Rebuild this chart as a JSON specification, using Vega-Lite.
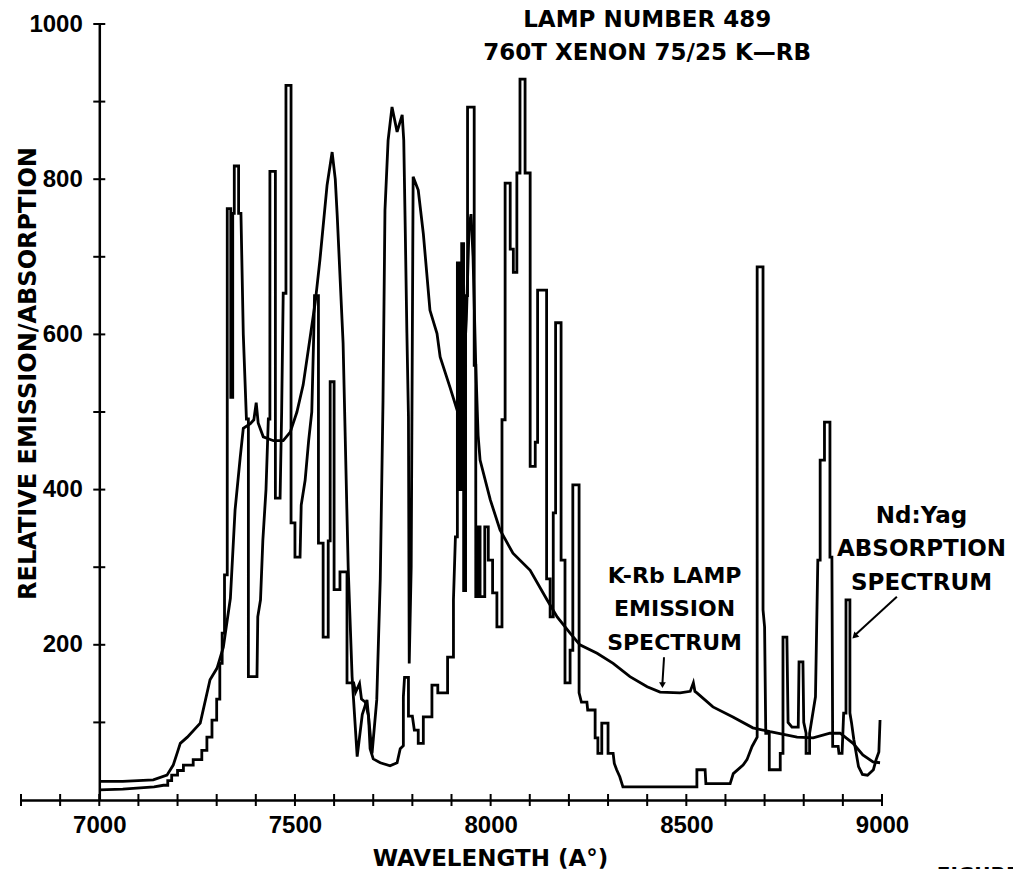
{
  "$schema": "https://vega.github.io/schema/vega-lite/v6.json",
  "width": 861,
  "height": 776,
  "autosize": {"type": "none"},
  "padding": {"left": 21, "top": 24, "right": 131, "bottom": 69},
  "background": "white",
  "config": {"view": {"stroke": null}},
  "datasets": {
    "absorption": [
      {"w":7000,"v":13},{"w":7060,"v":14},{"w":7140,"v":17},{"w":7164,"v":19},{"w":7175,"v":19},{"w":7175,"v":25},{"w":7185,"v":25},{"w":7185,"v":32},{"w":7200,"v":32},{"w":7200,"v":38},{"w":7215,"v":38},{"w":7215,"v":45},{"w":7240,"v":45},{"w":7240,"v":52},{"w":7262,"v":52},{"w":7262,"v":64},{"w":7275,"v":64},{"w":7275,"v":81},{"w":7288,"v":81},{"w":7288,"v":103},{"w":7300,"v":103},{"w":7300,"v":130},{"w":7308,"v":130},{"w":7308,"v":176},{"w":7314,"v":176},{"w":7314,"v":215},{"w":7320,"v":215},{"w":7320,"v":290},{"w":7327,"v":290},
      {"w":7327,"v":762},{"w":7336,"v":762},{"w":7336,"v":519},{"w":7341,"v":519},{"w":7341,"v":756},{"w":7345,"v":756},{"w":7345,"v":817},{"w":7356,"v":817},{"w":7356,"v":756},{"w":7362,"v":756},{"w":7368,"v":600},{"w":7376,"v":491},{"w":7381,"v":491},{"w":7381,"v":159},{"w":7403,"v":159},{"w":7405,"v":236},{"w":7412,"v":258},{"w":7418,"v":335},{"w":7426,"v":400},{"w":7432,"v":491},{"w":7436,"v":491},{"w":7436,"v":810},{"w":7450,"v":810},{"w":7450,"v":389},{"w":7462,"v":389},{"w":7466,"v":500},{"w":7470,"v":653},{"w":7477,"v":653},{"w":7477,"v":921},{"w":7490,"v":921},{"w":7490,"v":357},{"w":7500,"v":357},{"w":7500,"v":313},{"w":7513,"v":313},{"w":7516,"v":380},{"w":7526,"v":412},{"w":7535,"v":463},{"w":7543,"v":500},{"w":7548,"v":600},{"w":7550,"v":650},{"w":7560,"v":650},{"w":7560,"v":331},{"w":7572,"v":331},{"w":7572,"v":210},{"w":7585,"v":210},{"w":7585,"v":334},{"w":7590,"v":334},{"w":7590,"v":539},{"w":7600,"v":539},{"w":7600,"v":271},{"w":7615,"v":271},{"w":7615,"v":294},{"w":7633,"v":294},{"w":7633,"v":151},{"w":7650,"v":151},{"w":7655,"v":139},{"w":7665,"v":150},{"w":7670,"v":130},{"w":7680,"v":126},{"w":7688,"v":108},{"w":7692,"v":66},{"w":7700,"v":53},{"w":7718,"v":48},{"w":7743,"v":44},{"w":7761,"v":48},{"w":7769,"v":66},{"w":7777,"v":70},{"w":7777,"v":133},{"w":7780,"v":158},{"w":7790,"v":158},{"w":7790,"v":108},{"w":7800,"v":108},{"w":7805,"v":90},{"w":7815,"v":90},{"w":7815,"v":73},{"w":7828,"v":73},{"w":7828,"v":107},{"w":7850,"v":107},{"w":7850,"v":148},{"w":7865,"v":148},{"w":7865,"v":138},{"w":7890,"v":138},{"w":7890,"v":184},{"w":7905,"v":184},{"w":7905,"v":258},{"w":7910,"v":339},{"w":7915,"v":339},{"w":7915,"v":692},{"w":7920,"v":692},{"w":7920,"v":400},{"w":7926,"v":400},{"w":7926,"v":717},{"w":7931,"v":717},{"w":7931,"v":270},{"w":7936,"v":270},{"w":7936,"v":650},{"w":7941,"v":650},{"w":7941,"v":893},{"w":7958,"v":893},{"w":7958,"v":560},{"w":7962,"v":560},{"w":7962,"v":262},{"w":7968,"v":262},{"w":7968,"v":352},{"w":7973,"v":352},{"w":7973,"v":262},{"w":7985,"v":262},{"w":7985,"v":352},{"w":7994,"v":352},{"w":7994,"v":309},{"w":8005,"v":309},{"w":8005,"v":267},{"w":8016,"v":267},{"w":8016,"v":223},{"w":8029,"v":223},{"w":8029,"v":490},{"w":8037,"v":490},{"w":8037,"v":795},{"w":8050,"v":795},{"w":8050,"v":710},{"w":8058,"v":710},{"w":8058,"v":680},{"w":8067,"v":680},{"w":8067,"v":808},{"w":8075,"v":808},{"w":8075,"v":929},{"w":8088,"v":929},{"w":8088,"v":808},{"w":8101,"v":808},{"w":8101,"v":430},{"w":8114,"v":430},{"w":8114,"v":461},{"w":8120,"v":461},{"w":8120,"v":657},{"w":8143,"v":657},{"w":8143,"v":285},{"w":8152,"v":285},{"w":8152,"v":236},{"w":8160,"v":236},{"w":8160,"v":370},{"w":8166,"v":370},{"w":8166,"v":615},{"w":8180,"v":615},{"w":8180,"v":309},{"w":8190,"v":309},{"w":8190,"v":151},{"w":8203,"v":151},{"w":8203,"v":193},{"w":8210,"v":193},{"w":8210,"v":406},{"w":8226,"v":406},{"w":8226,"v":138},{"w":8232,"v":126},{"w":8246,"v":126},{"w":8248,"v":116},{"w":8267,"v":116},{"w":8267,"v":80},{"w":8274,"v":80},{"w":8274,"v":60},{"w":8284,"v":60},{"w":8284,"v":99},{"w":8300,"v":99},{"w":8300,"v":60},{"w":8313,"v":60},{"w":8316,"v":47},{"w":8322,"v":39},{"w":8330,"v":30},{"w":8338,"v":17},{"w":8527,"v":17},{"w":8527,"v":39},{"w":8548,"v":39},{"w":8550,"v":21},{"w":8612,"v":21},{"w":8620,"v":34},{"w":8645,"v":45},{"w":8655,"v":52},{"w":8668,"v":69},{"w":8681,"v":81},{"w":8681,"v":687},{"w":8696,"v":687},{"w":8696,"v":245},{"w":8700,"v":223},{"w":8703,"v":86},{"w":8712,"v":86},{"w":8712,"v":39},{"w":8740,"v":39},{"w":8740,"v":60},{"w":8747,"v":60},{"w":8747,"v":210},{"w":8757,"v":210},{"w":8760,"v":100},{"w":8770,"v":94},{"w":8786,"v":94},{"w":8788,"v":178},{"w":8798,"v":178},{"w":8800,"v":100},{"w":8806,"v":86},{"w":8806,"v":60},{"w":8815,"v":60},{"w":8815,"v":86},{"w":8830,"v":133},{"w":8836,"v":309},{"w":8842,"v":309},{"w":8842,"v":438},{"w":8853,"v":438},{"w":8853,"v":487},{"w":8867,"v":487},{"w":8867,"v":313},{"w":8872,"v":313},{"w":8874,"v":69},{"w":8888,"v":69},{"w":8890,"v":60},{"w":8898,"v":60},{"w":8902,"v":112},{"w":8908,"v":112},{"w":8908,"v":258},{"w":8918,"v":258},{"w":8918,"v":112},{"w":8922,"v":100},{"w":8928,"v":78},{"w":8940,"v":43},{"w":8950,"v":33},{"w":8963,"v":32},{"w":8978,"v":39},{"w":8985,"v":52},{"w":8992,"v":62},{"w":8995,"v":103}
    ],
    "emission": [
      {"w":7000,"v":24},{"w":7060,"v":24},{"w":7138,"v":26},{"w":7173,"v":32},{"w":7189,"v":45},{"w":7200,"v":62},{"w":7207,"v":73},{"w":7225,"v":81},{"w":7258,"v":99},{"w":7283,"v":155},{"w":7301,"v":170},{"w":7317,"v":197},{"w":7335,"v":260},{"w":7347,"v":374},{"w":7360,"v":441},{"w":7368,"v":479},{"w":7386,"v":485},{"w":7395,"v":490},{"w":7401,"v":512},{"w":7406,"v":486},{"w":7419,"v":468},{"w":7445,"v":463},{"w":7470,"v":463},{"w":7488,"v":474},{"w":7505,"v":500},{"w":7521,"v":535},{"w":7539,"v":597},{"w":7552,"v":642},{"w":7564,"v":697},{"w":7582,"v":792},{"w":7595,"v":835},{"w":7603,"v":800},{"w":7608,"v":753},{"w":7623,"v":589},{"w":7636,"v":300},{"w":7646,"v":159},{"w":7659,"v":56},{"w":7672,"v":110},{"w":7684,"v":129},{"w":7697,"v":60},{"w":7709,"v":129},{"w":7718,"v":285},{"w":7725,"v":515},{"w":7730,"v":760},{"w":7738,"v":850},{"w":7748,"v":893},{"w":7761,"v":861},{"w":7774,"v":883},{"w":7778,"v":850},{"w":7782,"v":730},{"w":7786,"v":602},{"w":7790,"v":494},{"w":7792,"v":176},{"w":7797,"v":300},{"w":7802,"v":803},{"w":7815,"v":786},{"w":7828,"v":730},{"w":7845,"v":631},{"w":7863,"v":601},{"w":7871,"v":571},{"w":7896,"v":532},{"w":7914,"v":503},{"w":7922,"v":494},{"w":7930,"v":540},{"w":7938,"v":620},{"w":7945,"v":740},{"w":7950,"v":755},{"w":7955,"v":700},{"w":7962,"v":560},{"w":7968,"v":470},{"w":7973,"v":438},{"w":7999,"v":387},{"w":8024,"v":348},{"w":8057,"v":318},{"w":8101,"v":296},{"w":8144,"v":258},{"w":8170,"v":236},{"w":8203,"v":215},{"w":8228,"v":200},{"w":8272,"v":189},{"w":8313,"v":176},{"w":8356,"v":159},{"w":8400,"v":146},{"w":8433,"v":139},{"w":8484,"v":138},{"w":8510,"v":140},{"w":8518,"v":151},{"w":8522,"v":140},{"w":8527,"v":138},{"w":8568,"v":120},{"w":8619,"v":107},{"w":8670,"v":93},{"w":8714,"v":88},{"w":8783,"v":81},{"w":8824,"v":80},{"w":8867,"v":86},{"w":8893,"v":86},{"w":8926,"v":73},{"w":8951,"v":58},{"w":8977,"v":49},{"w":8995,"v":48}
    ],
    "xticks": [{"t":6800},{"t":6900},{"t":7000},{"t":7100},{"t":7200},{"t":7300},{"t":7400},{"t":7500},{"t":7600},{"t":7700},{"t":7800},{"t":7900},{"t":8000},{"t":8100},{"t":8200},{"t":8300},{"t":8400},{"t":8500},{"t":8600},{"t":8700},{"t":8800},{"t":8900},{"t":9000}],
    "yticks": [{"t":100},{"t":200},{"t":300},{"t":400},{"t":500},{"t":600},{"t":700},{"t":800},{"t":900},{"t":1000}]
  },
  "layer": [
    {
      "data": {"name": "absorption"},
      "mark": {"type": "line", "color": "black", "strokeWidth": 2.8, "strokeJoin": "miter"},
      "encoding": {
        "x": {
          "field": "w", "type": "quantitative",
          "scale": {"domain": [6800, 9000]},
          "axis": {
            "values": [7000, 7500, 8000, 8500, 9000],
            "format": "d",
            "title": "WAVELENGTH (A°)",
            "titleFont": "DejaVu Sans", "titleFontWeight": "bold", "titleFontSize": 23, "titleColor": "black",
            "titleX": 469, "titleY": 65, "titleAlign": "center", "titleBaseline": "alphabetic", "titleAnchor": null,
            "labelFont": "Liberation Sans", "labelFontSize": 24, "labelFontWeight": "bold", "labelColor": "black",
            "labelPadding": 13, "labelOverlap": false, "labelFlush": false, "labelBound": false,
            "ticks": false,
            "domainColor": "black", "domainWidth": 2.5, "grid": false
          }
        },
        "y": {
          "field": "v", "type": "quantitative",
          "scale": {"domain": [0, 1000]},
          "axis": {
            "offset": -78.3,
            "values": [200, 400, 600, 800, 1000],
            "format": "d",
            "title": "RELATIVE EMISSION/ABSORPTION",
            "titleFont": "DejaVu Sans", "titleFontWeight": "bold", "titleFontSize": 24, "titleColor": "black",
            "titleX": -71, "titleY": 349, "titleAngle": 270, "titleAlign": "center", "titleBaseline": "middle", "titleAnchor": null,
            "labelFont": "Liberation Sans", "labelFontSize": 24, "labelFontWeight": "bold", "labelColor": "black",
            "labelPadding": 17, "labelOverlap": false, "labelFlush": false, "labelBound": false,
            "ticks": false,
            "domainColor": "black", "domainWidth": 2.5, "grid": false
          }
        },
        "order": {"value": null}
      }
    },
    {
      "data": {"name": "emission"},
      "mark": {"type": "line", "color": "black", "strokeWidth": 2.8},
      "encoding": {
        "x": {"field": "w", "type": "quantitative", "scale": {"domain": [6800, 9000]}},
        "y": {"field": "v", "type": "quantitative", "scale": {"domain": [0, 1000]}},
        "order": {"value": null}
      }
    },
    {
      "data": {"name": "xticks"},
      "mark": {"type": "tick", "orient": "vertical", "color": "black", "size": 12, "thickness": 2, "opacity": 1},
      "encoding": {
        "x": {"field": "t", "type": "quantitative", "scale": {"domain": [6800, 9000]}},
        "y": {"datum": 0, "type": "quantitative", "scale": {"domain": [0, 1000]}}
      }
    },
    {
      "data": {"name": "yticks"},
      "mark": {"type": "tick", "orient": "horizontal", "color": "black", "size": 12, "thickness": 2, "opacity": 1},
      "encoding": {
        "x": {"datum": 7000, "type": "quantitative", "scale": {"domain": [6800, 9000]}},
        "y": {"field": "t", "type": "quantitative", "scale": {"domain": [0, 1000]}}
      }
    },
    {
      "data": {"values": [{}]},
      "mark": {"type": "text", "text": ["LAMP NUMBER 489", "760T XENON 75/25 K—RB"], "font": "DejaVu Sans", "fontWeight": "bold", "fontSize": 23, "lineHeight": 33, "align": "center", "baseline": "alphabetic", "color": "black"},
      "encoding": {
        "x": {"datum": 8400, "type": "quantitative", "scale": {"domain": [6800, 9000]}},
        "y": {"datum": 996, "type": "quantitative", "scale": {"domain": [0, 1000]}}
      }
    },
    {
      "data": {"values": [{}]},
      "mark": {"type": "text", "text": ["K-Rb LAMP", "EMISSION", "SPECTRUM"], "font": "DejaVu Sans", "fontWeight": "bold", "fontSize": 22, "lineHeight": 33.5, "align": "center", "baseline": "alphabetic", "color": "black"},
      "encoding": {
        "x": {"datum": 8470, "type": "quantitative", "scale": {"domain": [6800, 9000]}},
        "y": {"datum": 280, "type": "quantitative", "scale": {"domain": [0, 1000]}}
      }
    },
    {
      "data": {"values": [{}]},
      "mark": {"type": "text", "text": ["Nd:Yag", "ABSORPTION", "SPECTRUM"], "font": "DejaVu Sans", "fontWeight": "bold", "fontSize": 23, "lineHeight": 33.5, "align": "center", "baseline": "alphabetic", "color": "black"},
      "encoding": {
        "x": {"datum": 9101, "type": "quantitative", "scale": {"domain": [6800, 9000]}},
        "y": {"datum": 357, "type": "quantitative", "scale": {"domain": [0, 1000]}}
      }
    },
    {
      "data": {"values": [{}]},
      "mark": {"type": "text", "text": "FIGURE", "font": "DejaVu Sans", "fontWeight": "bold", "fontSize": 20, "align": "left", "baseline": "alphabetic", "color": "black"},
      "encoding": {
        "x": {"datum": 9140, "type": "quantitative", "scale": {"domain": [6800, 9000]}},
        "y": {"datum": -104, "type": "quantitative", "scale": {"domain": [0, 1000]}}
      }
    },
    {
      "data": {"values": [{}]},
      "mark": {"type": "rule", "color": "black", "strokeWidth": 2},
      "encoding": {
        "x": {"datum": 8443, "type": "quantitative", "scale": {"domain": [6800, 9000]}},
        "y": {"datum": 184, "type": "quantitative", "scale": {"domain": [0, 1000]}},
        "x2": {"datum": 8439},
        "y2": {"datum": 150}
      }
    },
    {
      "data": {"values": [{}]},
      "mark": {"type": "point", "shape": "triangle-down", "filled": true, "color": "black", "size": 45, "opacity": 1},
      "encoding": {
        "x": {"datum": 8439, "type": "quantitative", "scale": {"domain": [6800, 9000]}},
        "y": {"datum": 148, "type": "quantitative", "scale": {"domain": [0, 1000]}}
      }
    },
    {
      "data": {"values": [{}]},
      "mark": {"type": "rule", "color": "black", "strokeWidth": 2},
      "encoding": {
        "x": {"datum": 9038, "type": "quantitative", "scale": {"domain": [6800, 9000]}},
        "y": {"datum": 262, "type": "quantitative", "scale": {"domain": [0, 1000]}},
        "x2": {"datum": 8932},
        "y2": {"datum": 213}
      }
    },
    {
      "data": {"values": [{}]},
      "mark": {"type": "point", "shape": "triangle-up", "filled": true, "color": "black", "size": 50, "angle": 226, "opacity": 1},
      "encoding": {
        "x": {"datum": 8930, "type": "quantitative", "scale": {"domain": [6800, 9000]}},
        "y": {"datum": 211, "type": "quantitative", "scale": {"domain": [0, 1000]}}
      }
    }
  ]
}
